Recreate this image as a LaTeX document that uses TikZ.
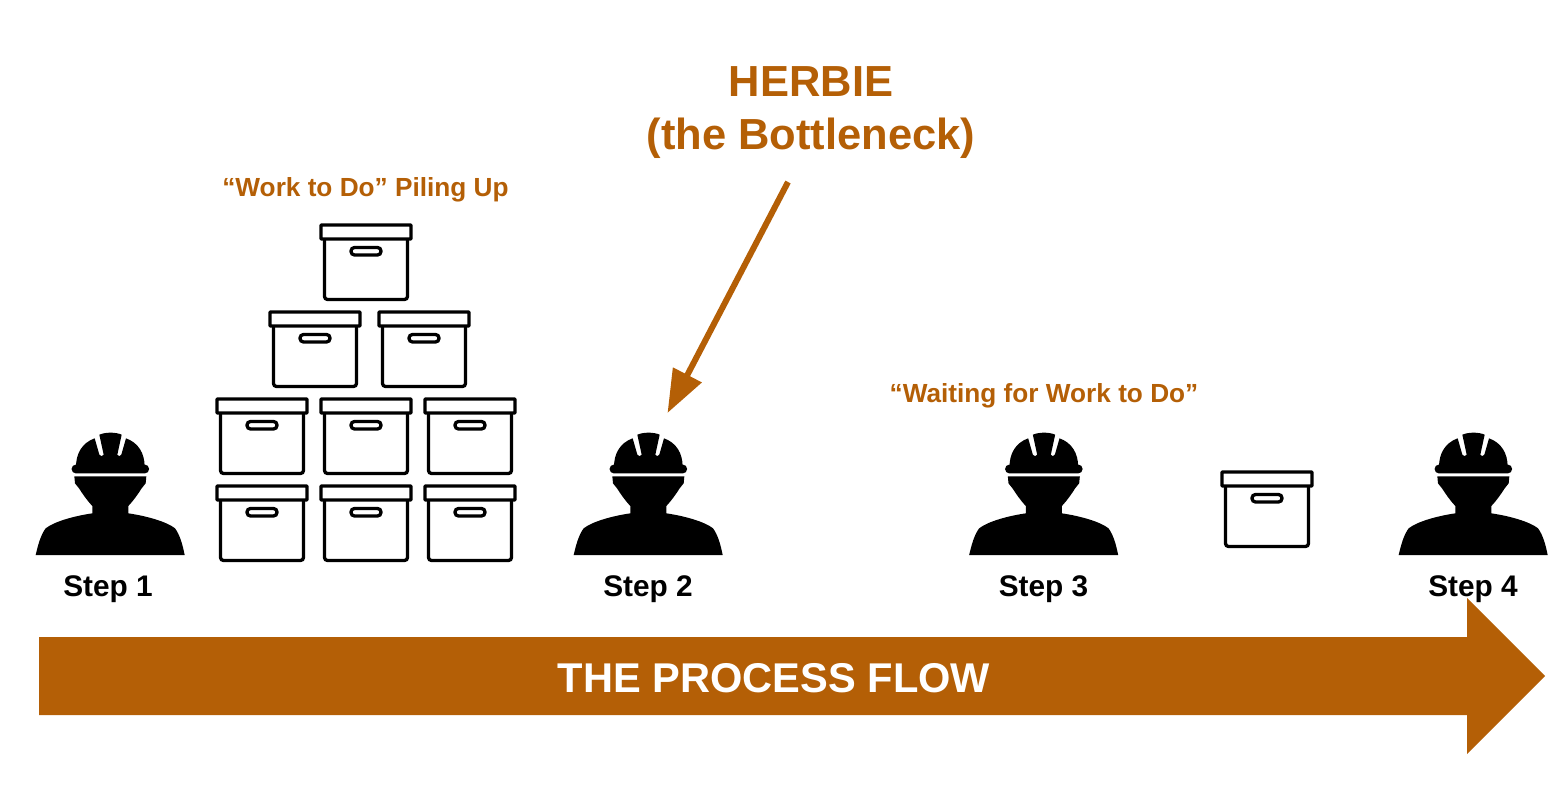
\documentclass[tikz,border=0pt]{standalone}
\usepackage{fontspec}
\setmainfont{Liberation Sans}
\usetikzlibrary{arrows.meta}
\definecolor{flow}{HTML}{B45F06}
\tikzset{
  x=1pt,y=-1pt,
  steplabel/.style={anchor=base,inner sep=0pt,font=\bfseries\fontsize{29.8}{32}\selectfont,text=black},
  bigtitle/.style={anchor=base,inner sep=0pt,font=\bfseries\fontsize{43.5}{48}\selectfont,text=flow},
  note/.style={anchor=base,inner sep=0pt,font=\bfseries\fontsize{26.2}{28}\selectfont,text=flow},
  flowtext/.style={anchor=base,inner sep=0pt,font=\bfseries\fontsize{41.6}{46}\selectfont,text=white},
  pics/worker/.style={code={
    \begin{scope}[scale=1/3,shift={(-268,-405)}]
      \fill[black] (45,405) .. controls (52,375) and (60,345) .. (75,325)
        .. controls (100,305) and (160,288) .. (215,280) -- (215,258)
        .. controls (198,240) and (186,222) .. (175,205) -- (163,190) -- (161,169)
        -- (377,169) -- (375,190) -- (363,205)
        .. controls (352,222) and (340,240) .. (323,258) -- (323,280)
        .. controls (378,288) and (438,305) .. (463,325)
        .. controls (478,345) and (486,375) .. (492,405) -- cycle;
      \fill[black,rounded corners=4pt] (153,134) rectangle (385,160);
      \fill[black] (166,140) .. controls (166,100) and (185,68) .. (222,55)
        -- (236,104) .. controls (238,110) and (248,110) .. (249,104)
        -- (236,44) .. controls (255,36) and (285,36) .. (303,44)
        -- (290,104) .. controls (291,110) and (300,110) .. (302,104)
        -- (316,55) .. controls (353,68) and (372,100) .. (372,140) -- cycle;
    \end{scope}
  }},
  pics/filebox/.style={code={
    \draw[black,line width=3.3pt,rounded corners=3pt] (-41.5,15) -- (-41.5,75.5) -- (41.5,75.5) -- (41.5,15);
    \draw[black,line width=3.3pt,fill=white,rounded corners=0.8pt] (-45,1) rectangle (45,15);
    \draw[black,line width=3.3pt,rounded corners=3.5pt] (-15,23.5) rectangle (15,31);
  }}
}
\begin{document}
\begin{tikzpicture}
\useasboundingbox (0,0) rectangle (1558,786);
% workers
\pic (w1) at (110,555) {worker};
\pic (w2) at (648,555) {worker};
\pic (w3) at (1043.5,555) {worker};
\pic (w4) at (1473,555) {worker};
% boxes
\pic (b1) at (366,224) {filebox};
\pic (b2) at (315,311) {filebox};
\pic (b3) at (424,311) {filebox};
\pic (b4) at (262,398) {filebox};
\pic (b5) at (366,398) {filebox};
\pic (b6) at (470,398) {filebox};
\pic (b7) at (262,485) {filebox};
\pic (b8) at (366,485) {filebox};
\pic (b9) at (470,485) {filebox};
\pic (b10) at (1267,471) {filebox};
% labels
\node[steplabel] (s1) at (108,596) {Step 1};
\node[steplabel] (s2) at (648,596) {Step 2};
\node[steplabel] (s3) at (1043.5,596) {Step 3};
\node[steplabel] (s4) at (1473,596) {Step 4};
\node[bigtitle] (herbie) at (811,96.5) {HERBIE};
\node[bigtitle] (bottleneck) at (811,149.5) {(the Bottleneck)};
\node[note] (piling) at (365.5,196.5) {“Work to Do” Piling Up};
\node[note] (waiting) at (1044,402.5) {“Waiting for Work to Do”};
% process flow arrow
\fill[flow] (39,637) -- (1467,637) -- (1467,598) -- (1545,676) -- (1467,754) -- (1467,715) -- (39,715) -- cycle;
\node[flowtext] (flowlabel) at (774,692) {THE PROCESS FLOW};
% bottleneck pointer
\coordinate (ptail) at (788,182);
\coordinate (phead) at (667.5,413);
\draw[flow,line width=6pt,-{Triangle[length=43pt,width=31pt]}] (ptail) -- (phead);
\end{tikzpicture}
\end{document}
